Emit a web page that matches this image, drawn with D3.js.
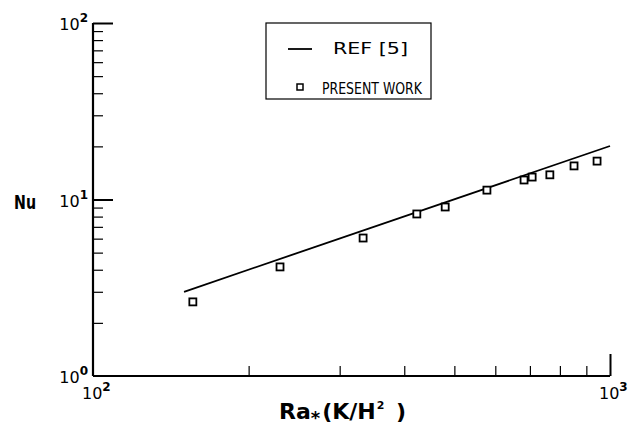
<!DOCTYPE html>
<html>
<head>
<meta charset="utf-8">
<script src="https://cdn.jsdelivr.net/npm/d3@7"></script>
<style>
  html, body { margin: 0; padding: 0; background: #fff; }
  svg { display: block; }
</style>
</head>
<body>
<div id="chart"></div>
<script>
// Data
const presentRa = [156, 230, 333, 423, 480, 578, 682, 707, 765, 852, 944];
const presentNu = [2.63, 4.15, 6.05, 8.28, 9.07, 11.3, 12.9, 13.4, 13.8, 15.5, 16.5];
const refRa = [150, 1000];
const refNu = [3.0, 20.1];
const xDecades = [100, 1000];
const yDecades = [1, 10, 100];
const legendLabels = ['REF  [5]', 'PRESENT WORK'];

const width = 641, height = 431;
const margin = { left: 93, right: 31, top: 23, bottom: 55 };
const plotW = width - margin.left - margin.right;
const plotH = height - margin.top - margin.bottom;

const svg = d3.select('#chart').append('svg')
  .attr('width', width)
  .attr('height', height)
  .attr('font-family', 'DejaVu Sans');

const x = d3.scaleLog().domain([100, 1000]).range([0, plotW]);
const y = d3.scaleLog().domain([1, 100]).range([plotH, 0]);

const chart = svg.append('g')
  .attr('transform', `translate(${margin.left},${margin.top})`);

// minor + major ticks, pointing inward
const xTicks = d3.range(2, 11).map(d => d * 100);
const yTicks = [];
[1, 10].forEach(dec => d3.range(2, 11).forEach(k => yTicks.push(dec * k)));

const xAxis = d3.axisTop(x).tickValues(xTicks).tickSize(10).tickFormat('');
const xg = chart.append('g').attr('transform', `translate(0,${plotH})`).call(xAxis);
xg.selectAll('.tick line')
  .attr('y2', d => xDecades.includes(d) ? -22 : -10)
  .attr('stroke-width', d => xDecades.includes(d) ? 2 : 1.2);
xg.select('.domain').remove();

const yAxis = d3.axisRight(y).tickValues(yTicks).tickSize(10).tickFormat('');
const yg = chart.append('g').call(yAxis);
yg.selectAll('.tick line')
  .attr('x2', d => yDecades.includes(d) ? 20 : 10)
  .attr('stroke-width', d => yDecades.includes(d) ? 2 : 1.2);
yg.select('.domain').remove();

// axis lines (left and bottom only)
chart.append('line')
  .attr('x1', 0).attr('x2', 0).attr('y1', 0).attr('y2', plotH)
  .attr('stroke', '#000').attr('stroke-width', 2.2);
chart.append('line')
  .attr('x1', 0).attr('x2', plotW).attr('y1', plotH).attr('y2', plotH)
  .attr('stroke', '#000').attr('stroke-width', 2.2);

// decade labels
function powerLabel(g, base, exp, px, py, anchor) {
  const t = g.append('text')
    .attr('x', px).attr('y', py)
    .attr('text-anchor', anchor)
    .attr('font-size', 16)
    .attr('fill', '#000');
  t.append('tspan').text(base);
  t.append('tspan').attr('font-size', 12).attr('font-weight', 'bold').attr('dy', -8).text(exp);
  return t;
}
yDecades.forEach(d => {
  powerLabel(chart, '10', Math.round(Math.log10(d)), -5, y(d) + 7, 'end');
});
xDecades.forEach(d => {
  powerLabel(chart, '10', Math.round(Math.log10(d)), x(d) - 11, plotH + 23, 'start');
});

// reference correlation
const line = d3.line().x(d => x(d[0])).y(d => y(d[1]));
chart.append('path')
  .datum(d3.zip(refRa, refNu))
  .attr('d', line)
  .attr('fill', 'none')
  .attr('stroke', '#000')
  .attr('stroke-width', 1.8);

// present work
const sq = 7;
chart.selectAll('.pt')
  .data(d3.zip(presentRa, presentNu))
  .join('rect')
  .attr('class', 'pt')
  .attr('x', d => x(d[0]) - sq / 2)
  .attr('y', d => y(d[1]) - sq / 2)
  .attr('width', sq).attr('height', sq)
  .attr('fill', '#fff')
  .attr('stroke', '#000')
  .attr('stroke-width', 1.8);

// axis titles
svg.append('text')
  .attr('x', 14).attr('y', 209)
  .attr('font-size', 20).attr('font-weight', 'bold')
  .attr('textLength', 22).attr('lengthAdjust', 'spacingAndGlyphs')
  .text('Nu');

const xt = svg.append('text')
  .attr('x', 279).attr('y', 419)
  .attr('font-size', 22).attr('font-weight', 'bold');
xt.append('tspan').text('Ra');
xt.append('tspan').attr('font-size', 18).attr('dy', 5).text('*');
xt.append('tspan').attr('dy', -5).attr('dx', 2).text('(K/H');
xt.append('tspan').attr('font-size', 11).attr('dy', -10).attr('dx', 1).text('2');
xt.append('tspan').attr('dy', 10).attr('dx', 4).text(' )');

// legend
const lg = svg.append('g').attr('transform', 'translate(266,23)');
lg.append('rect')
  .attr('width', 165).attr('height', 76)
  .attr('fill', '#fff').attr('stroke', '#000').attr('stroke-width', 1.2);
lg.append('line')
  .attr('x1', 22).attr('x2', 46).attr('y1', 26).attr('y2', 26)
  .attr('stroke', '#000').attr('stroke-width', 1.8);
lg.append('text')
  .attr('x', 67).attr('y', 31)
  .attr('font-size', 15)
  .attr('textLength', 75).attr('lengthAdjust', 'spacingAndGlyphs')
  .text(legendLabels[0]);
lg.append('rect')
  .attr('x', 31).attr('y', 61).attr('width', 6).attr('height', 6)
  .attr('fill', '#fff').attr('stroke', '#000').attr('stroke-width', 1.5);
lg.append('text')
  .attr('x', 56).attr('y', 71)
  .attr('font-size', 15)
  .attr('textLength', 100).attr('lengthAdjust', 'spacingAndGlyphs')
  .text(legendLabels[1]);
</script>
</body>
</html>
